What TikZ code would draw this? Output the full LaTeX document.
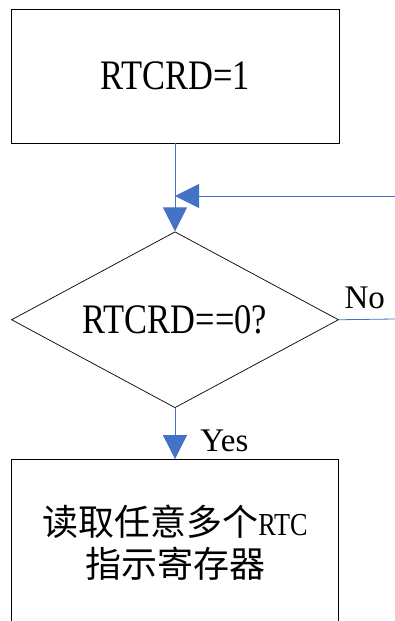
\documentclass[tikz,border=0pt]{standalone}
\usepackage{fontspec}
\setmainfont{Liberation Serif}
\newfontfamily\cjk{Noto Sans CJK SC}
\usetikzlibrary{positioning,arrows.meta,shapes.geometric}
\definecolor{ink}{HTML}{000000}
\definecolor{flowblue}{HTML}{4472C4}
\newcommand{\narrow}[1]{\scalebox{0.82}[1]{#1}}
\tikzset{
  %% nodes
  box/.style  = {draw=ink, line width=0.8pt, fill=white, align=center,
                 inner sep=0pt},
  dec/.style  = {diamond, aspect=1.86, draw=ink, line width=0.7pt, inner sep=0pt,
                 minimum width=327pt, minimum height=176pt},
  %% arrows
  flow/.style = {-{Triangle[length=24pt,width=24pt]}, draw=flowblue,
                 line width=0.8pt},
  link/.style = {-, draw=flowblue, line width=0.8pt},
  %% annotations
  lbl/.style  = {font=\fontsize{33}{36}\selectfont, inner sep=0pt},
}

\begin{document}
\begin{tikzpicture}[x=1pt, y=-1pt, node distance=0pt]
\clip (0,0) rectangle (395,621);

%% start
\node[box, minimum width=328pt, minimum height=134pt,
      font=\fontsize{42}{50}\selectfont] (init) at (175,76) {\narrow{RTCRD=1}};

%% decision
\node[dec, below=88pt of init,
      font=\fontsize{42}{50}\selectfont] (dec) {\narrow{RTCRD==0?}};

%% read registers (runs off the page)
\node[box, below=51pt of dec, minimum width=327pt, minimum height=166pt,
      font=\cjk\fontsize{36}{42}\selectfont] (read)
   {读取任意多个{\rmfamily\fontsize{32}{42}\selectfont\narrow{RTC}}\\ 指示寄存器};

%% loop back from the right
\coordinate (loopin) at (395,196);
\coordinate (noout)  at (395,319);

%% edges
\draw[flow] (init.south) -- (dec.north);
\draw[flow] (loopin) -- (loopin -| dec.north);
\draw[link] (dec.east) -- node[lbl, pos=0.46, above=10pt] {No} (noout);
\draw[flow] (dec.south) -- node[lbl, pos=0.86, anchor=base west, xshift=25pt] {Yes} (read.north);

\end{tikzpicture}
\end{document}
